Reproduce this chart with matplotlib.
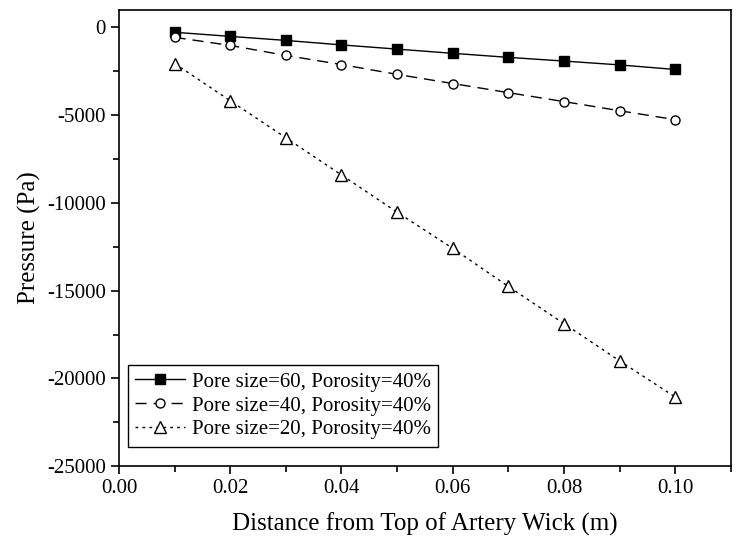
import numpy as np
import matplotlib
matplotlib.use('Agg')
from matplotlib import pyplot as plt
from matplotlib.ticker import MultipleLocator, FormatStrFormatter

distance = [0.01, 0.02, 0.03, 0.04, 0.05, 0.06, 0.07, 0.08, 0.09, 0.10]
pore60 = [-280, -515, -745, -1000, -1240, -1480, -1710, -1920, -2140, -2400]
pore40 = [-570, -1030, -1600, -2120, -2680, -3200, -3720, -4230, -4750, -5260]
pore20 = [-2060, -4180, -6290, -8410, -10530, -12590, -14760, -16880, -19000, -21060]

labels = ['Pore size=60, Porosity=40%',
          'Pore size=40, Porosity=40%',
          'Pore size=20, Porosity=40%']

plt.rcParams['font.family'] = ['Liberation Serif', 'DejaVu Serif']
plt.rcParams['axes.unicode_minus'] = False

fig = plt.figure(figsize=(7.39, 5.44), dpi=100)
ax = fig.add_axes([0.161, 0.143, 0.828, 0.839])

ax.plot(distance, pore60, color='black', linestyle='-', linewidth=1,
        marker='s', markersize=7, markerfacecolor='black', label=labels[0])
ax.plot(distance, pore40, color='black', linestyle=(0, (8, 5)), linewidth=1,
        marker='o', markersize=6.5, markerfacecolor='white', label=labels[1])
ax.plot(distance, pore20, color='black', linestyle=(0, (2, 3)), linewidth=1,
        marker='^', markersize=8.5, markerfacecolor='white', label=labels[2])

ax.set_xlim(0, 0.11)
ax.set_ylim(-25000, 1000)
ax.xaxis.set_major_locator(MultipleLocator(0.02))
ax.xaxis.set_minor_locator(MultipleLocator(0.01))
ax.xaxis.set_major_formatter(FormatStrFormatter('%.2f'))
ax.yaxis.set_major_locator(MultipleLocator(5000))
ax.yaxis.set_minor_locator(MultipleLocator(2500))

ax.tick_params(which='major', direction='out', length=6, width=1.2, labelsize=15)
ax.tick_params(which='minor', direction='out', length=4, width=1.2)
ax.tick_params(top=False, right=False)
for s in ax.spines.values():
    s.set_linewidth(1.2)

ax.set_xlabel('Distance from Top of Artery Wick (m)', fontsize=18, labelpad=10)
ax.set_ylabel('Pressure (Pa)', fontsize=18, labelpad=4)

leg = ax.legend(loc='lower left', bbox_to_anchor=(0.015, 0.043), fontsize=15,
                frameon=True, fancybox=False, edgecolor='black', framealpha=1,
                borderaxespad=0, handlelength=2.4, handletextpad=0.3,
                labelspacing=0.2, borderpad=0.35)
leg.get_frame().set_linewidth(1)

plt.savefig('out.png', dpi=100)
